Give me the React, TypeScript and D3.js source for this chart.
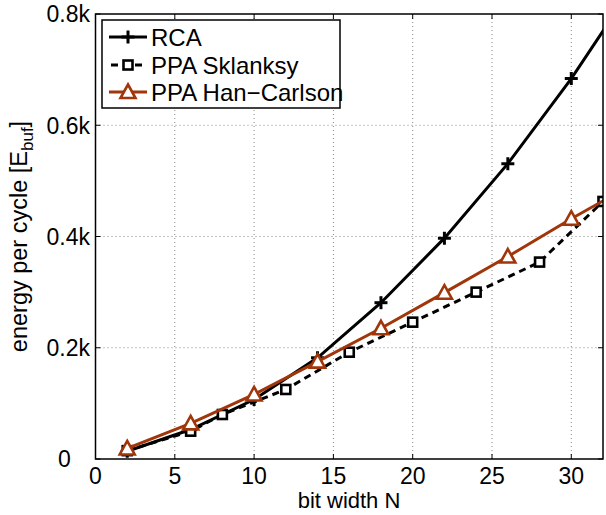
import React from "react";
import * as d3 from "d3";

const xTicks = [0, 5, 10, 15, 20, 25, 30];
const yTicks = [0, 200, 400, 600, 800];
const yTickLabels = ["0", "0.2k", "0.4k", "0.6k", "0.8k"];

const rcaN = [2, 6, 10, 14, 18, 22, 26, 30, 34];
const rcaE = [14, 53, 107, 182, 281, 397, 531, 684, 855];
const sklN = [2, 6, 8, 12, 16, 20, 24, 28, 32];
const sklE = [15, 50, 80, 125, 192, 246, 300, 354, 463];
const hcN = [2, 6, 10, 14, 18, 22, 26, 30, 34];
const hcE = [19, 64, 116, 175, 235, 299, 364, 432, 496];

const seriesNames = ["RCA", "PPA Sklanksy", "PPA Han\u2212Carlson"];
const HC = "#A0360A";
const FONT = "'Liberation Sans', Arial, Helvetica, sans-serif";

export default function App() {
  const W = 606, H = 515;
  const L = 95.5, R = 603, T = 14, B = 459;
  const x = d3.scaleLinear().domain([0, 32]).range([L, R]);
  const y = d3.scaleLinear().domain([0, 800]).range([B, T]);
  const line = d3.line<[number, number]>().x(d => x(d[0])).y(d => y(d[1]));
  const rca = rcaN.map((n, i) => [n, rcaE[i]] as [number, number]);
  const skl = sklN.map((n, i) => [n, sklE[i]] as [number, number]);
  const hc = hcN.map((n, i) => [n, hcE[i]] as [number, number]);
  const tickLen = 5;
  const maxLen = d3.max(yTickLabels, s => s.length) as number;

  const plus = (cx: number, cy: number, k: string, s = 6.5) => (
    <g key={k}>
      <line x1={cx - s} x2={cx + s} y1={cy} y2={cy} stroke="#000" strokeWidth={3} />
      <line x1={cx} x2={cx} y1={cy - s} y2={cy + s} stroke="#000" strokeWidth={3} />
    </g>
  );
  const square = (cx: number, cy: number, k: string, s = 4.5) => (
    <rect key={k} x={cx - s} y={cy - s} width={2 * s} height={2 * s} fill="#fff" stroke="#000" strokeWidth={2.6} />
  );
  const tri = (cx: number, cy: number, k: string, s = 7.5) => (
    <path key={k} d={`M${cx},${cy - s}L${cx + s},${cy + s * 0.8}L${cx - s},${cy + s * 0.8}Z`} fill="#fff" stroke={HC} strokeWidth={2.6} strokeLinejoin="miter" />
  );

  const legX = 102, legY = 20, legW = 238, legH = 88;
  const legRows = [37, 65, 92];

  return (
    <svg width={W} height={H} style={{ position: "absolute", left: 0, top: 0, background: "#fff" }} fontFamily={FONT}>
      <defs>
        <clipPath id="plotclip">
          <rect x={L} y={T} width={R - L} height={B - T} />
        </clipPath>
      </defs>
      <rect x={0} y={0} width={W} height={H} fill="#fff" />
      {/* grid */}
      {xTicks.filter(t => t > 0).map(t => (
        <line key={"gx" + t} x1={x(t)} x2={x(t)} y1={T} y2={B} stroke="#888" strokeWidth={1} strokeDasharray="1,3" />
      ))}
      {yTicks.filter(t => t > 0 && t < 800).map(t => (
        <line key={"gy" + t} x1={L} x2={R} y1={y(t)} y2={y(t)} stroke="#888" strokeWidth={1} strokeDasharray="1,3" />
      ))}
      {/* ticks */}
      {xTicks.map(t => (
        <g key={"tx" + t}>
          <line x1={x(t)} x2={x(t)} y1={B} y2={B - tickLen} stroke="#000" />
          <line x1={x(t)} x2={x(t)} y1={T} y2={T + tickLen} stroke="#000" />
          <text x={x(t)} y={483.5} textAnchor="middle" fontSize={23} fill="#000">{t}</text>
        </g>
      ))}
      {yTicks.map((t, i) => (
        <g key={"ty" + t}>
          <line x1={L} x2={L + tickLen} y1={y(t)} y2={y(t)} stroke="#000" />
          <line x1={R} x2={R - tickLen} y1={y(t)} y2={y(t)} stroke="#000" />
          <text x={90} y={y(t)} dy="0.36em" textAnchor="end" fontSize={23} fill="#000" style={{ whiteSpace: "pre" }}>
            {yTickLabels[i] + "\u00a0".repeat(maxLen - yTickLabels[i].length)}
          </text>
        </g>
      ))}
      {/* data */}
      <g clipPath="url(#plotclip)">
        <path d={line(rca) as string} fill="none" stroke="#000" strokeWidth={3} />
        {rca.map((d, i) => plus(x(d[0]), y(d[1]), "p" + i))}
        <path d={line(skl) as string} fill="none" stroke="#000" strokeWidth={3} strokeDasharray="7,5" />
        {skl.map((d, i) => square(x(d[0]), y(d[1]), "s" + i))}
        <path d={line(hc) as string} fill="none" stroke={HC} strokeWidth={3} />
        {hc.map((d, i) => tri(x(d[0]), y(d[1]), "t" + i))}
      </g>
      {/* frame */}
      <rect x={L} y={T} width={R - L} height={B - T} fill="none" stroke="#000" strokeWidth={1.5} />
      {/* legend */}
      <rect x={legX} y={legY} width={legW} height={legH} fill="#fff" stroke="#000" strokeWidth={1.5} />
      <line x1={109} x2={147} y1={legRows[0]} y2={legRows[0]} stroke="#000" strokeWidth={3} />
      {plus(128, legRows[0], "lp")}
      <line x1={109} x2={147} y1={legRows[1]} y2={legRows[1]} stroke="#000" strokeWidth={3} strokeDasharray="7,5" strokeDashoffset={-2} />
      {square(128, legRows[1], "ls")}
      <line x1={109} x2={147} y1={legRows[2]} y2={legRows[2]} stroke={HC} strokeWidth={3} />
      {tri(128, legRows[2], "lt")}
      {seriesNames.map((s, i) => (
        <text key={"ln" + i} x={151} y={legRows[i] + 8.5} fontSize={24} fill="#000">{s}</text>
      ))}
      {/* axis labels */}
      <text x={349} y={508} textAnchor="middle" fontSize={22} fill="#000">bit width N</text>
      <text transform={`translate(27,${(T + B) / 2}) rotate(-90)`} textAnchor="middle" fontSize={23.5} fill="#000">
        energy per cycle [E<tspan fontSize={17} dy={6}>buf</tspan><tspan dy={-6}>]</tspan>
      </text>
    </svg>
  );
}
